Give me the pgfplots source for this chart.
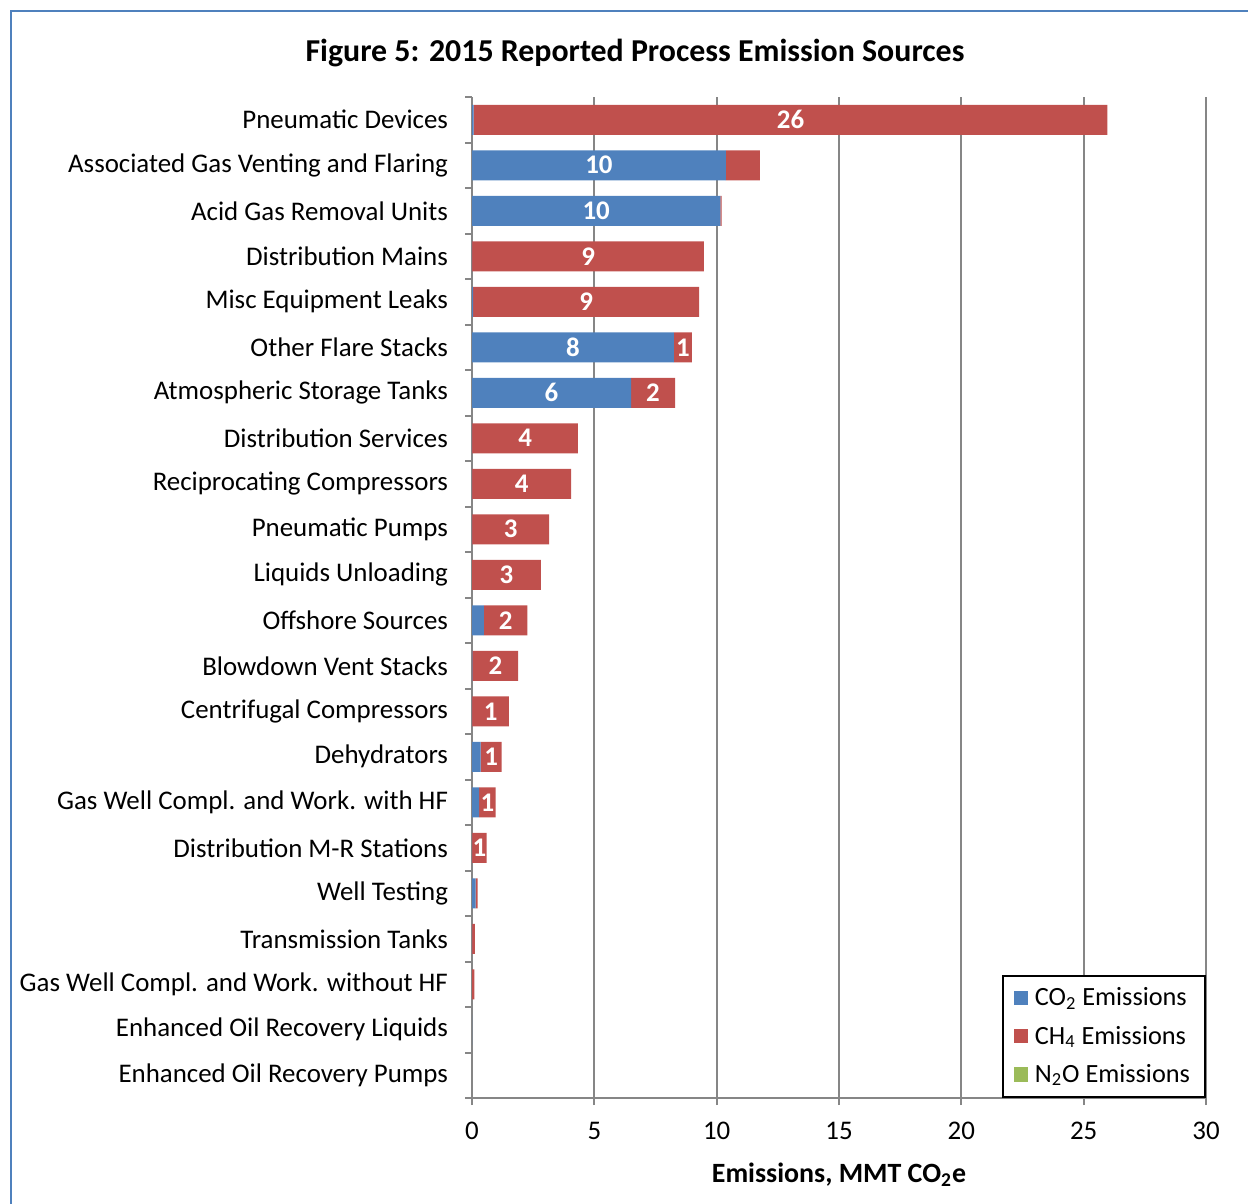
\documentclass[border=0pt]{standalone}
\usepackage{pgfplots}
\pgfplotsset{compat=1.18}
\usepackage{pgfplotstable}
\usepackage{fontspec}
\setmainfont{Carlito}

\definecolor{co2}{HTML}{4F81BD}
\definecolor{ch4}{HTML}{C0504D}
\definecolor{n2o}{HTML}{9BBB59}
\definecolor{gridgray}{HTML}{868686}

% MMT CO2e by source; lco2/lch4 are the printed bar labels
\pgfplotstableread[col sep=semicolon]{
cat;co2;ch4;n2o;lco2;lch4
Pneumatic Devices;0.07;25.90;0;;26
Associated Gas Venting and Flaring;10.38;1.39;0;10;
Acid Gas Removal Units;10.15;0.05;0;10;
Distribution Mains;0.01;9.47;0;;9
Misc Equipment Leaks;0.05;9.23;0;;9
Other Flare Stacks;8.25;0.74;0;8;1
Atmospheric Storage Tanks;6.50;1.80;0;6;2
Distribution Services;0.01;4.32;0;;4
Reciprocating Compressors;0.01;4.04;0;;4
Pneumatic Pumps;0.01;3.14;0;;3
Liquids Unloading;0.00;2.82;0;;3
Offshore Sources;0.49;1.77;0;;2
Blowdown Vent Stacks;0.02;1.87;0;;2
Centrifugal Compressors;0.01;1.50;0;;1
Dehydrators;0.35;0.86;0;;1
Gas Well Compl. and Work. with HF;0.29;0.68;0;;1
Distribution M-R Stations;0.01;0.59;0;;1
Well Testing;0.15;0.08;0;;
Transmission Tanks;0.01;0.11;0;;
Gas Well Compl. and Work. without HF;0.00;0.10;0;;
Enhanced Oil Recovery Liquids;0.01;0.00;0;;
Enhanced Oil Recovery Pumps;0.00;0.00;0;;
}\emis

\begin{document}
\begin{tikzpicture}
\useasboundingbox (0,0) rectangle (624bp,-602bp);
\draw[co2, line width=1bp] (5.5bp,-620bp) -- (5.5bp,-5.5bp) -- (640bp,-5.5bp);
\node[font=\bfseries\fontsize{16}{18}\selectfont] at (317.5bp,-26.5bp)
  {Figure 5: 2015 Reported Process Emission Sources};
\begin{axis}[
  at={(236bp,-549bp)}, anchor=south west,
  width=367bp, height=500.5bp, scale only axis,
  xbar stacked, bar width=15bp,
  xmin=0, xmax=30, ymin=-0.5, ymax=21.5,
  y dir=reverse,
  xtick={0,5,...,30},
  ytick={0,...,21},
  yticklabels from table={\emis}{cat},
  extra y ticks={-0.5,0.5,...,21.5},
  extra y tick labels={},
  extra y tick style={grid=none, ytick style={draw=gridgray, line width=1bp}},
  ytick style={draw=none},
  xtick style={draw=gridgray, line width=1bp},
  major tick length=3.5bp,
  tick align=outside,
  axis x line*=bottom, axis y line*=left,
  axis line style={draw=gridgray, line width=1bp},
  xmajorgrids, major grid style={draw=gridgray, line width=1bp},
  font=\fontsize{13.5}{15}\selectfont,
  /pgf/number format/assume math mode=true,
  yticklabel style={anchor=east, xshift=-5bp},
  xticklabel style={yshift=-5bp},
  xlabel={\bfseries Emissions, MMT CO\textsubscript{2}e},
  xlabel style={at={(axis description cs:0.5,0)}, anchor=center, yshift=-38.5bp,
    font=\fontsize{14}{16}\selectfont},
  legend style={at={(1,0)}, anchor=south east, draw=black, line width=1bp,
    font=\fontsize{13.2}{15}\selectfont, row sep=4.5bp,
    inner xsep=5.5bp, inner ysep=4bp, cells={anchor=west}},
  legend image code/.code={\fill[#1] (0bp,-3.5bp) rectangle (7bp,3.5bp);
    \path (8.5bp,0bp);},
  nodes near coords, nodes near coords align={center},
  every node near coord/.append style={font=\bfseries\fontsize{13.5}{15}\selectfont,
    text=white},
  point meta=explicit symbolic,
]
\addplot[fill=co2, draw=none]
  table[x=co2, y expr=\coordindex, meta=lco2] {\emis};
\addplot[fill=ch4, draw=none]
  table[x=ch4, y expr=\coordindex, meta=lch4] {\emis};
\addplot[fill=n2o, draw=none]
  table[x=n2o, y expr=\coordindex, meta=n2o] {\emis};
\legend{CO\textsubscript{2} Emissions, CH\textsubscript{4} Emissions, N\textsubscript{2}O Emissions}
\end{axis}
\end{tikzpicture}
\end{document}
